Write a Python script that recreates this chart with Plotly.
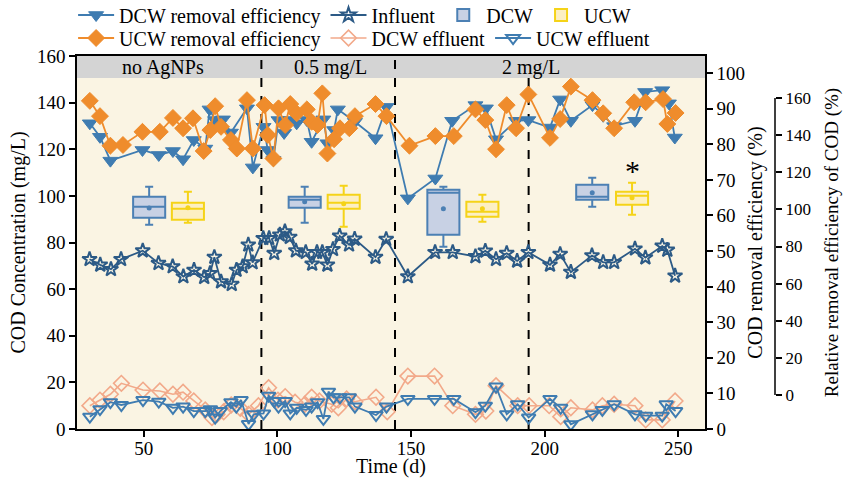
import plotly.graph_objects as go

# ---------------- data ----------------
dcw_re_day = [29.8, 33.6, 37.5, 49.5, 55.6, 60.9, 64.7, 68.7, 73.0, 74.6, 76.7, 79.6, 82.6, 88.6, 90.8,
              94.8, 96.4, 98.5, 100.4, 102.5, 104.8, 107.2, 111.0, 112.8, 117.2, 118.7, 121.2, 122.6, 129.0,
              136.7, 140.8, 148.8, 159.1, 165.4, 174.1, 178.0, 181.8, 189.3, 193.9, 202.0, 205.8, 209.8,
              217.9, 221.9, 226.0, 233.8, 237.6, 244.0, 246.5, 248.7]
dcw_re_val = [85.9, 82.1, 75.4, 78.4, 77.0, 78.1, 75.8, 81.2, 78.8, 89.8, 86.8, 87.0, 83.3, 90.1, 73.5,
              84.9, 78.4, 75.6, 86.8, 83.2, 86.8, 85.9, 86.8, 80.7, 87.0, 80.3, 84.0, 89.8, 86.3,
              81.7, 90.5, 64.8, 70.4, 86.6, 91.0, 90.1, 81.4, 86.6, 86.8, 84.7, 92.6, 86.6,
              91.0, 88.0, 85.1, 86.6, 94.7, 95.2, 91.5, 81.9]

ucw_re_day = [29.8, 33.6, 37.5, 42.2, 49.5, 56.0, 60.9, 64.7, 68.4, 72.4, 74.9, 76.7, 78.9, 82.6, 84.8,
              88.6, 90.8, 95.2, 96.4, 98.5, 100.4, 102.9, 104.8, 107.2, 111.0, 112.8, 115.0, 116.8, 118.7,
              121.2, 123.4, 126.9, 129.0, 136.7, 140.8, 149.4, 159.1, 166.0, 174.1, 177.8, 181.8, 185.8,
              189.3, 193.9, 202.0, 205.8, 209.8, 217.9, 221.9, 226.0, 233.5, 237.8, 244.3, 245.9, 249.0]
ucw_re_val = [92.2, 87.9, 79.6, 79.8, 83.5, 83.5, 87.4, 84.5, 87.3, 78.1, 84.0, 90.7, 84.9, 81.2, 78.8,
              92.4, 78.8, 91.0, 82.6, 76.0, 90.1, 85.4, 91.3, 88.7, 89.8, 86.3, 85.4, 94.3, 77.4,
              81.4, 84.5, 84.5, 87.9, 91.3, 87.9, 79.6, 82.3, 82.3, 89.8, 86.8, 78.6, 91.0,
              84.5, 94.0, 81.8, 87.1, 96.2, 92.4, 88.7, 84.5, 91.8, 91.8, 92.7, 85.7, 88.8]

inf_day = [29.7, 33.7, 37.7, 41.5, 49.6, 55.5, 60.8, 64.8, 68.8, 72.6, 74.8, 76.4, 78.9, 82.9, 84.7,
           87.0, 89.1, 90.7, 94.7, 96.9, 98.8, 100.9, 102.8, 104.6, 106.9, 110.6, 113.0, 114.8, 116.8,
           118.7, 120.8, 123.3, 126.8, 128.9, 136.7, 140.7, 148.8, 159.0, 165.6, 174.1, 177.8, 181.8,
           185.8, 189.7, 193.9, 202.0, 205.8, 209.8, 217.7, 221.9, 226.0, 233.8, 237.7, 244.0, 245.9, 248.8]
inf_val = [72.8, 70.4, 68.5, 72.8, 76.5, 71.1, 69.7, 65.4, 68.2, 65.1, 66.8, 73.7, 63.2, 62.1, 68.2,
           69.7, 79.0, 71.4, 81.8, 81.8, 75.4, 83.3, 84.7, 82.3, 76.5, 75.8, 70.8, 75.8, 75.8,
           70.4, 77.1, 82.8, 79.0, 81.5, 73.7, 81.4, 65.4, 75.8, 75.8, 74.0, 76.4, 72.8,
           75.4, 72.1, 75.8, 70.4, 75.0, 67.3, 74.4, 71.5, 71.5, 77.3, 73.5, 78.5, 76.8, 65.7]

dcw_eff_day = [29.8, 33.6, 37.5, 41.6, 49.7, 56.0, 60.9, 64.7, 68.7, 73.0, 75.5, 77.4, 79.9, 82.7, 86.1,
               89.2, 92.9, 96.7, 100.2, 102.9, 106.6, 110.3, 112.8, 115.7, 120.3, 122.8, 125.9, 129.0,
               136.9, 141.1, 148.8, 158.8, 165.6, 174.1, 178.0, 181.8, 189.9, 194.2, 201.7, 206.0,
               209.8, 217.9, 221.6, 226.0, 233.8, 237.8, 244.0, 248.8]
dcw_eff_val = [10.0, 12.4, 14.9, 19.6, 16.7, 16.3, 14.9, 15.8, 12.0, 8.2, 4.9, 6.3, 7.4, 10.3, 8.9,
               6.3, 10.0, 17.7, 12.4, 13.9, 11.5, 10.6, 13.6, 12.0, 10.6, 9.1, 12.9, 11.7,
               13.6, 7.4, 22.7, 22.7, 10.0, 6.3, 7.7, 18.6, 10.0, 10.0, 10.0, 5.3,
               9.1, 8.2, 10.0, 10.6, 10.0, 3.9, 3.9, 12.0]

ucw_eff_day = [29.8, 33.6, 37.5, 41.6, 49.7, 55.6, 60.9, 64.7, 68.7, 73.0, 74.9, 76.7, 78.6, 82.6, 84.6,
               86.4, 89.2, 91.1, 94.8, 96.7, 98.8, 100.4, 102.9, 104.8, 107.2, 110.7, 112.8, 115.0, 117.2,
               119.1, 121.0, 123.4, 126.9, 129.0, 136.9, 140.8, 148.8, 158.8, 166.0, 174.1, 177.8, 181.8,
               185.8, 189.9, 194.0, 202.0, 206.0, 209.8, 217.9, 221.6, 226.0, 233.8, 237.8, 244.0, 245.5, 249.0]
ucw_eff_val = [5.3, 8.5, 11.5, 10.3, 12.4, 11.7, 9.1, 9.6, 7.7, 7.7, 8.5, 4.9, 7.7, 11.5, 9.6,
               12.4, 2.1, 6.3, 6.7, 14.3, 12.0, 9.6, 12.0, 6.7, 9.1, 8.2, 9.6, 11.5, 4.3,
               16.0, 13.6, 13.6, 13.6, 9.6, 6.0, 9.6, 12.9, 12.9, 12.9, 7.2, 10.0, 18.2,
               6.3, 10.6, 4.9, 12.9, 9.1, 2.0, 6.3, 8.2, 10.6, 6.3, 5.7, 5.7, 10.6, 7.7]

# relative removal efficiency boxes (third axis)
dcw_box_day = [52.0, 110.2, 162.1, 217.8]
dcw_q1 = [95.5, 100.9, 86.3, 105.2]
dcw_med = [101.4, 105.2, 109.0, 106.8]
dcw_q3 = [106.8, 106.8, 110.6, 113.3]
dcw_lo = [91.7, 92.8, 79.8, 101.4]
dcw_hi = [112.2, 112.2, 112.2, 117.0]
dcw_mean = [100.7, 104.1, 100.3, 109.0]

ucw_box_day = [66.5, 124.8, 176.7, 232.7]
ucw_q1 = [94.4, 100.3, 96.0, 102.5]
ucw_med = [100.3, 103.6, 98.7, 107.3]
ucw_q3 = [103.6, 107.9, 104.1, 109.5]
ucw_lo = [92.8, 90.6, 93.3, 97.1]
ucw_hi = [109.5, 112.7, 107.9, 114.3]
ucw_mean = [100.9, 103.0, 100.3, 106.3]

phase_bounds = [94, 144, 194]
phase_labels = ["no AgNPs", "0.5 mg/L", "2 mg/L"]
phase_label_day = [57.2, 120.0, 195.0]
sig_day, sig_val = 232.7, 111.0

x_ticks = [50, 100, 150, 200, 250]
left_ticks = list(range(0, 161, 20))
right_ticks = list(range(0, 101, 10))
rel_ticks = list(range(0, 161, 20))

# ---------------- styling ----------------
FONT = "Liberation Serif, Times New Roman, serif"
BLUE = "#3f7cb1"
DARK = "#2c5a86"
ORANGE = "#ef8c2c"
SALMON = "#f2a98a"
BOXBLUE_FILL = "#c8d1e4"
BOXBLUE_LINE = "#4c80b4"
BOXY_FILL = "#fcefc3"
BOXY_LINE = "#f5d318"

fig = go.Figure()

fig.add_trace(go.Scatter(x=dcw_re_day, y=dcw_re_val, yaxis="y2", name="DCW removal efficiency",
                         mode="lines+markers", line=dict(color=BLUE, width=1.8),
                         marker=dict(symbol="triangle-down", size=13, color=BLUE,
                                     line=dict(color=BLUE, width=1)), legend="legend"))
fig.add_trace(go.Scatter(x=ucw_re_day, y=ucw_re_val, yaxis="y2", name="UCW removal efficiency",
                         mode="lines+markers", line=dict(color=ORANGE, width=1.8),
                         marker=dict(symbol="diamond", size=13, color=ORANGE,
                                     line=dict(color=ORANGE, width=1)), legend="legend2"))
fig.add_trace(go.Scatter(x=inf_day, y=inf_val, name="Influent",
                         mode="lines+markers", line=dict(color=DARK, width=1.8),
                         marker=dict(symbol="star-open", size=11, color=DARK,
                                     line=dict(color=DARK, width=2)), legend="legend"))
fig.add_trace(go.Scatter(x=dcw_eff_day, y=dcw_eff_val, name="DCW effluent",
                         mode="lines+markers", line=dict(color=SALMON, width=1.6),
                         marker=dict(symbol="diamond-open", size=12, color=SALMON,
                                     line=dict(color=SALMON, width=1.6)), legend="legend2"))
fig.add_trace(go.Scatter(x=ucw_eff_day, y=ucw_eff_val, name="UCW effluent",
                         mode="lines+markers", line=dict(color=BLUE, width=1.8),
                         marker=dict(symbol="triangle-down-open", size=12, color=BLUE,
                                     line=dict(color=BLUE, width=2)), legend="legend2"))

fig.add_trace(go.Box(x=dcw_box_day, q1=dcw_q1, median=dcw_med, q3=dcw_q3,
                     lowerfence=dcw_lo, upperfence=dcw_hi, yaxis="y3", name="DCW",
                     width=12, whiskerwidth=0.25, fillcolor=BOXBLUE_FILL,
                     line=dict(color=BOXBLUE_LINE, width=2), legend="legend"))
fig.add_trace(go.Box(x=ucw_box_day, q1=ucw_q1, median=ucw_med, q3=ucw_q3,
                     lowerfence=ucw_lo, upperfence=ucw_hi, yaxis="y3", name="UCW",
                     width=12, whiskerwidth=0.25, fillcolor=BOXY_FILL,
                     line=dict(color=BOXY_LINE, width=2), legend="legend"))
fig.add_trace(go.Scatter(x=dcw_box_day, y=dcw_mean, yaxis="y3", mode="markers", showlegend=False,
                         marker=dict(size=5, color=BOXBLUE_LINE)))
fig.add_trace(go.Scatter(x=ucw_box_day, y=ucw_mean, yaxis="y3", mode="markers", showlegend=False,
                         marker=dict(size=5, color=BOXY_LINE)))

# ---------------- layout ----------------
W, H = 860, 478
ML, MR, MT, MB = 77, 40, 56, 49
paper_w = W - ML - MR
plot_right = 705
xdom_end = (plot_right - ML) / paper_w
rel_pos = (775 - ML) / paper_w
plot_h = H - MT - MB
# third axis: 0 at y=395px, 160 at y=98px
ppu = (395 - 98) / 160
rel_lo = -((H - MB) - 395) / ppu
rel_hi = 160 + (98 - MT) / ppu
band_y0 = ((H - MB) - 78) / plot_h

axis_common = dict(showgrid=False, zeroline=False, ticks="outside", ticklen=6, tickwidth=1.5,
                   tickcolor="black", linecolor="black", linewidth=1.5,
                   tickfont=dict(family=FONT, size=19, color="black"))

fig.update_layout(
    width=W, height=H,
    margin=dict(l=ML, r=MR, t=MT, b=MB, autoexpand=False),
    paper_bgcolor="white", plot_bgcolor="#faf4e3",
    font=dict(family=FONT, size=19, color="black"),
    xaxis=dict(domain=[0, xdom_end], range=[25, 260], tickvals=x_ticks, showline=True, mirror=True,
               ticklabelstandoff=-5,
               title=dict(text="Time (d)", font=dict(family=FONT, size=20), standoff=8), **axis_common),
    yaxis=dict(range=[0, 160], tickvals=left_ticks, showline=True,
               title=dict(text="COD Concentration (mg/L)", font=dict(family=FONT, size=20), standoff=6),
               **axis_common),
    yaxis2=dict(overlaying="y", side="right", anchor="x", range=[0, 104.8], tickvals=right_ticks,
                showline=True,
                title=dict(text="COD removal efficiency (%)", font=dict(family=FONT, size=20), standoff=4),
                **axis_common),
    yaxis3=dict(overlaying="y", side="right", anchor="free", position=rel_pos, range=[rel_lo, rel_hi],
                tickvals=rel_ticks, showgrid=False, zeroline=False, showline=False, ticks="outside",
                ticklen=6, tickwidth=1.5, tickcolor="black", automargin=False,
                tickfont=dict(family=FONT, size=17, color="black"),
                title=dict(text="Relative removal efficiency of COD (%)",
                           font=dict(family=FONT, size=19), standoff=14)),
    legend=dict(orientation="h", xref="container", yref="container", x=0.085, y=1 - 15 / H,
                xanchor="left", yanchor="middle", bgcolor="rgba(0,0,0,0)",
                font=dict(family=FONT, size=20), itemwidth=36, tracegroupgap=0),
    legend2=dict(orientation="h", xref="container", yref="container", x=0.085, y=1 - 38 / H,
                 xanchor="left", yanchor="middle", bgcolor="rgba(0,0,0,0)",
                 font=dict(family=FONT, size=20), itemwidth=36, tracegroupgap=0),
    showlegend=True,
)

shapes = [
    dict(type="rect", xref="paper", yref="paper", x0=0, x1=xdom_end, y0=band_y0, y1=1,
         fillcolor="#d4d4d4", line=dict(width=0), layer="below"),
]
for i, b in enumerate(phase_bounds):
    shapes.append(dict(type="line", xref="x", yref="paper", x0=b, x1=b, y0=0,
                       y1=1 if i < 2 else band_y0,
                       line=dict(color="black", width=2, dash="dash"), layer="below"))
shapes.append(dict(type="line", xref="paper", yref="y3", x0=rel_pos, x1=rel_pos, y0=0, y1=160,
                   line=dict(color="black", width=1.5)))
fig.update_layout(shapes=shapes)

annotations = []
for d, t in zip(phase_label_day, phase_labels):
    annotations.append(dict(x=d, y=(band_y0 + 1) / 2, xref="x", yref="paper", text=t, showarrow=False,
                            font=dict(family=FONT, size=20, color="black"), yanchor="middle"))
annotations.append(dict(x=sig_day, y=sig_val, xref="x", yref="y3", text="*", showarrow=False,
                        font=dict(family=FONT, size=30, color="black"), yanchor="bottom"))
fig.update_layout(annotations=annotations)

fig.write_html("out.html", config={"displayModeBar": False},
               post_script="document.body.style.margin='0';document.body.style.overflow='hidden';")
